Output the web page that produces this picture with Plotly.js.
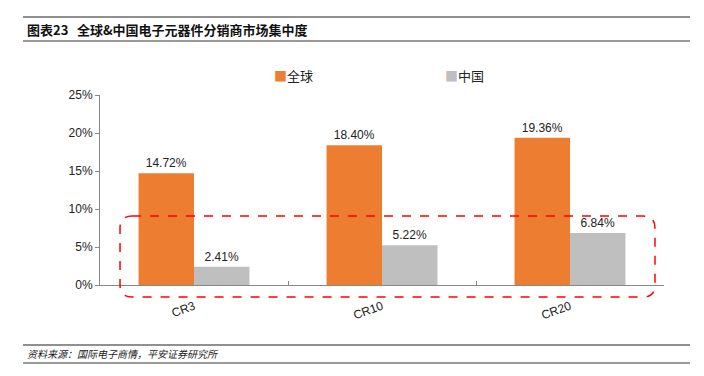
<!DOCTYPE html>
<html>
<head>
<meta charset="utf-8">
<script src="https://cdn.plot.ly/plotly-3.0.1.min.js"></script>
<style>
html,body{margin:0;padding:0;background:#fff;}
#chart{width:704px;height:376px;}
</style>
</head>
<body>
<div id="chart"></div>
<script>
// Data
const categories = ["CR3", "CR10", "CR20"];
const globalValues = [14.72, 18.40, 19.36];
const chinaValues = [2.41, 5.22, 6.84];
const seriesNames = ["全球", "中国"];
const yTickValues = [0, 5, 10, 15, 20, 25];

const orange = "#ED7D31";
const gray = "#BFBFBF";
const cjk = '"Noto Sans CJK SC", "Liberation Sans", sans-serif';
const latin = '"Liberation Sans", Arial, sans-serif';

const traces = [
  {
    type: "bar", name: seriesNames[0], x: categories, y: globalValues,
    marker: {color: orange},
    text: globalValues.map(v => v.toFixed(2) + "%"),
    textposition: "outside", cliponaxis: false,
    textfont: {family: latin, size: 12, color: "#222"},
    hoverinfo: "skip"
  },
  {
    type: "bar", name: seriesNames[1], x: categories, y: chinaValues,
    marker: {color: gray},
    text: chinaValues.map(v => v.toFixed(2) + "%"),
    textposition: "outside", cliponaxis: false,
    textfont: {family: latin, size: 12, color: "#222"},
    hoverinfo: "skip"
  }
];

// rounded dashed rectangle in paper coords
const x0 = 0.0355, x1 = 0.984, y0 = -0.063, y1 = 0.363;
const rx = 12 / 564, ry = 12 / 190;
const roundPath = `M ${x0+rx},${y1} L ${x1-rx},${y1} Q ${x1},${y1} ${x1},${y1-ry} L ${x1},${y0+ry} Q ${x1},${y0} ${x1-rx},${y0} L ${x0+rx},${y0} Q ${x0},${y0} ${x0},${y0+ry} L ${x0},${y1-ry} Q ${x0},${y1} ${x0+rx},${y1} Z`;

const layout = {
  width: 704, height: 376,
  margin: {l: 100, r: 40, t: 95, b: 91, pad: 0},
  paper_bgcolor: "#fff", plot_bgcolor: "#fff",
  showlegend: false,
  barmode: "group",
  bargap: 0.41, bargroupgap: 0,
  font: {family: latin, size: 12, color: "#222"},
  xaxis: {
    type: "category",
    showline: true, linecolor: "#888", linewidth: 1,
    ticks: "inside", ticklen: 4, tickcolor: "#888", tickson: "boundaries",
    tickangle: -20, ticklabelstandoff: 9,
    tickfont: {family: latin, size: 12, color: "#222"},
    showgrid: false, zeroline: false, fixedrange: true
  },
  yaxis: {
    range: [0, 25], tickvals: yTickValues, ticktext: yTickValues.map(v => v + "%"),
    showline: true, linecolor: "#888", linewidth: 1,
    ticks: "outside", ticklen: 4, tickcolor: "#888",
    tickfont: {family: latin, size: 12, color: "#222"},
    showgrid: false, zeroline: false, fixedrange: true
  },
  shapes: [
    {type: "line", xref: "paper", yref: "paper", x0: -0.1365, x1: 1.046, y0: 1.4105, y1: 1.4105,
     line: {color: "#222", width: 1.2}},
    {type: "line", xref: "paper", yref: "paper", x0: -0.1365, x1: 1.046, y0: 1.284, y1: 1.284,
     line: {color: "#999", width: 2}},
    {type: "line", xref: "paper", yref: "paper", x0: -0.1365, x1: 1.046, y0: -0.3158, y1: -0.3158,
     line: {color: "#222", width: 1.2}},
    {type: "line", xref: "paper", yref: "paper", x0: -0.1365, x1: 1.046, y0: -0.4105, y1: -0.4105,
     line: {color: "#999", width: 2}},
    {type: "path", xref: "paper", yref: "paper", path: roundPath,
     line: {color: "#FF0000", width: 1.5, dash: "dash"}}
  ],
  annotations: [
    {xref: "paper", yref: "paper", x: -0.133, y: 1.347, xanchor: "left", yanchor: "middle",
     text: "<b>图表23</b>", showarrow: false,
     font: {family: cjk, size: 13, color: "#111"}},
    {xref: "paper", yref: "paper", x: -0.0445, y: 1.347, xanchor: "left", yanchor: "middle",
     text: "<b>全球&amp;中国电子元器件分销商市场集中度</b>", showarrow: false,
     font: {family: cjk, size: 13, color: "#111"}},
    {xref: "paper", yref: "paper", x: -0.133, y: -0.363, xanchor: "left", yanchor: "middle",
     text: "<i>资料来源：国际电子商情，平安证券研究所</i>", showarrow: false,
     font: {family: cjk, size: 10, color: "#222"}},
    {xref: "paper", yref: "paper", x: 0.3050, y: 1.1, xanchor: "left", yanchor: "middle",
     text: `<span style="color:${orange}">■</span>${seriesNames[0]}`, showarrow: false,
     font: {family: cjk, size: 13, color: "#222"}},
    {xref: "paper", yref: "paper", x: 0.6080, y: 1.1, xanchor: "left", yanchor: "middle",
     text: `<span style="color:${gray}">■</span>${seriesNames[1]}`, showarrow: false,
     font: {family: cjk, size: 13, color: "#222"}}
  ]
};

Plotly.newPlot("chart", traces, layout, {displayModeBar: false, staticPlot: true});
</script>
</body>
</html>
